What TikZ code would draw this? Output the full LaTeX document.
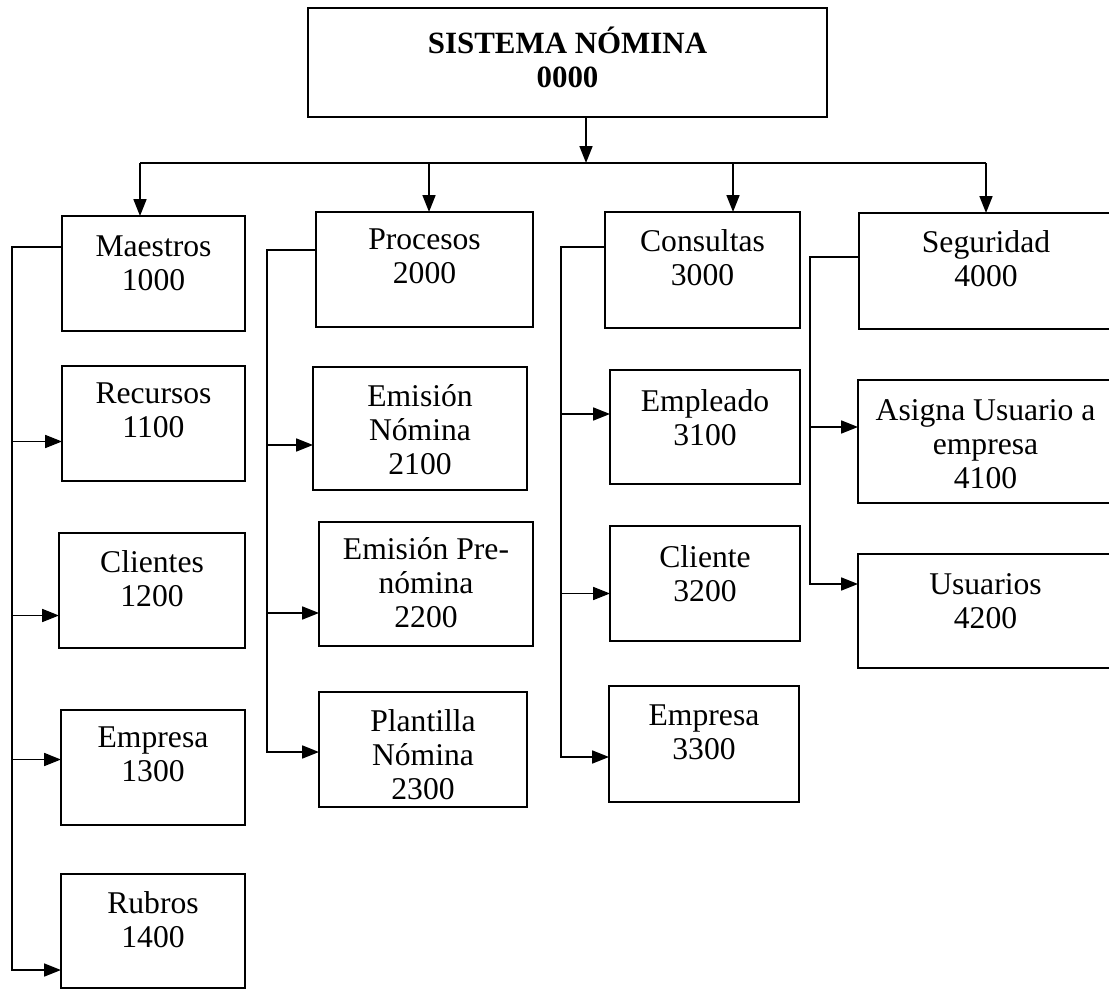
\documentclass[tikz,border=0pt]{standalone}
\usepackage{fontspec}
\setmainfont{Liberation Serif}
\usepackage{tikz}
\usetikzlibrary{arrows.meta,positioning,calc}
\tikzset{
  caja/.style 2 args={
    rectangle, draw=black, line width=1.4pt,
    minimum width=#1*0.025cm, minimum height=#2*0.025cm,
    inner sep=0pt, outer sep=0pt
  },
  texto/.style={
    font=\fontsize{22.5}{24.2}\selectfont, align=center,
    inner sep=0pt, anchor=north
  },
  flecha/.style={
    -{Triangle[length=0.42cm,width=0.32cm]}, line width=1.4pt
  },
  linea/.style={line width=1.4pt},
}

\begin{document}
\begin{tikzpicture}[x=0.025cm,y=-0.025cm]
  \clip (0,0) rectangle (1109,990);

  % Root
  \node[caja={519}{109}] (sis) at (567.5,62.5) {};

  % Level 1
  \node[caja={183}{115}] (mae) at (153.5,273.5) {};
  \node[caja={217}{115}] (pro) at (424.5,269.5) {};
  \node[caja={195}{116}] (con) at (702.5,270) {};
  \node[caja={254}{116}] (seg) at (986,271) {};

  % Maestros
  \node[caja={183}{115}] (rec) at (153.5,423.5) {};
  \node[caja={186}{115}] (cli) at (152,590.5) {};
  \node[caja={184}{115}] (emp) at (153,767.5) {};
  \node[caja={184}{114}] (rub) at (153,931) {};

  % Procesos
  \node[caja={214}{123}] (emi) at (420,428.5) {};
  \node[caja={214}{124}] (pre) at (426,584) {};
  \node[caja={208}{115}] (pla) at (423,749.5) {};

  % Consultas
  \node[caja={190}{114}] (epl) at (705,427) {};
  \node[caja={190}{115}] (clt) at (705,583.5) {};
  \node[caja={190}{116}] (emc) at (704,744) {};

  % Seguridad
  \node[caja={255}{123}] (asi) at (985.5,441.5) {};
  \node[caja={255}{114}] (usu) at (985.5,611) {};

  % Texts
  \node[texto, font=\fontsize{22}{24.5}\selectfont\bfseries, below=0.46cm of sis.north]
    (tsis) {SISTEMA NÓMINA\\0000};
  \node[texto, below=0.48cm of mae.north] (tmae) {Maestros\\1000};
  \node[texto, below=0.42cm of pro.north] (tpro) {Procesos\\2000};
  \node[texto, below=0.42cm of con.north] (tcon) {Consultas\\3000};
  \node[texto, below=0.42cm of seg.north] (tseg) {Seguridad\\4000};
  \node[texto, below=0.42cm of rec.north] (trec) {Recursos\\1100};
  \node[texto, below=0.42cm of cli.north] (tcli) {Clientes\\1200};
  \node[texto, below=0.42cm of emp.north] (temp) {Empresa\\1300};
  \node[texto, below=0.42cm of rub.north] (trub) {Rubros\\1400};
  \node[texto, below=0.42cm of emi.north] (temi) {Emisión\\Nómina\\2100};
  \node[texto, below=0.37cm of pre.north] (tpre) {Emisión Pre-\\nómina\\2200};
  \node[texto, below=0.42cm of pla.north] (tpla) {Plantilla\\Nómina\\2300};
  \node[texto, below=0.47cm of epl.north] (tepl) {Empleado\\3100};
  \node[texto, below=0.47cm of clt.north] (tclt) {Cliente\\3200};
  \node[texto, below=0.47cm of emc.north] (temc) {Empresa\\3300};
  \node[texto, below=0.47cm of asi.north] (tasi) {Asigna Usuario a\\empresa\\4100};
  \node[texto, below=0.47cm of usu.north] (tusu) {Usuarios\\4200};

  % Root to level 1
  \coordinate (bus) at (586,163);
  \coordinate (b1) at (140,163);
  \coordinate (b2) at (429,163);
  \coordinate (b3) at (733,163);
  \coordinate (b4) at (986,163);
  \draw[flecha] (sis.south -| bus) -- (bus);
  \draw[linea] (b1) -- (b4);
  \draw[flecha] (b1) -- (b1 |- mae.north);
  \draw[flecha] (b2) -- (b2 |- pro.north);
  \draw[flecha] (b3) -- (b3 |- con.north);
  \draw[flecha] (b4) -- (b4 |- seg.north);

  % Side buses
  \coordinate (m0) at (12,247);
  \coordinate (p0) at (267,250);
  \coordinate (c0) at (561,247);
  \coordinate (s0) at (810,257);

  \foreach \n/\d in {rec/18, cli/25, emp/-8} {
    \coordinate (t) at ($(\n.west)+(0,\d)$);
    \draw[flecha] (t -| m0) -- (t);
  }
  \draw[flecha] (mae.west |- m0) -- (m0) |- ($(rub.west)+(0,39)$);

  \foreach \n/\d in {emi/16.5, pre/29} {
    \coordinate (t) at ($(\n.west)+(0,\d)$);
    \draw[flecha] (t -| p0) -- (t);
  }
  \draw[flecha] (pro.west |- p0) -- (p0) |- ($(pla.west)+(0,2.5)$);

  \foreach \n/\d in {epl/-13, clt/10} {
    \coordinate (t) at ($(\n.west)+(0,\d)$);
    \draw[flecha] (t -| c0) -- (t);
  }
  \draw[flecha] (con.west |- c0) -- (c0) |- ($(emc.west)+(0,13)$);

  \coordinate (t) at ($(asi.west)+(0,-14.5)$);
  \draw[flecha] (t -| s0) -- (t);
  \draw[flecha] (seg.west |- s0) -- (s0) |- ($(usu.west)+(0,-27)$);
\end{tikzpicture}
\end{document}
